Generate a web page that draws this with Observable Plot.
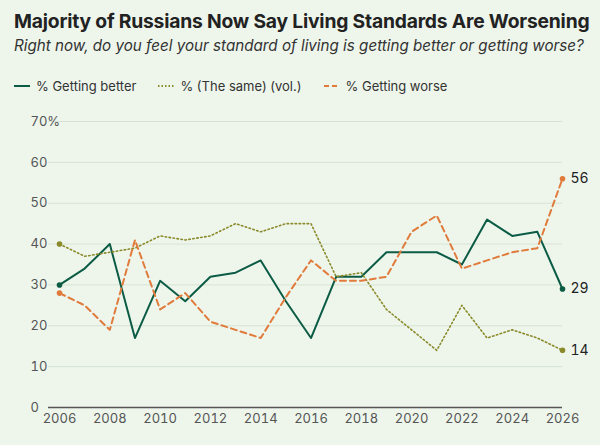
<!DOCTYPE html>
<html><head><meta charset="utf-8">
<script src="https://cdn.jsdelivr.net/npm/d3@7"></script>
<script src="https://cdn.jsdelivr.net/npm/@observablehq/plot@0.6"></script>
<style>
body{margin:0;background:#eef6ec;font-family:Inter,"Noto Sans",sans-serif;}
#t{font-weight:700;font-size:19.3px;color:#222;position:absolute;left:14px;top:9px;letter-spacing:-0.2px}
#s{font-style:italic;font-size:15.2px;color:#333;position:absolute;left:14px;top:36px}
#l{position:absolute;left:14px;top:78px;font-size:13px;color:#333;display:flex;gap:22px}
#l span{display:flex;align-items:center;gap:6px}
#c{position:absolute;left:0;top:108px}
</style></head><body>
<div id="t">Majority of Russians Now Say Living Standards Are Worsening</div>
<div id="s">Right now, do you feel your standard of living is getting better or getting worse?</div>
<div id="l">
<span><svg width="16" height="4"><line x1="0" y1="2" x2="16" y2="2" stroke="#0c5c45" stroke-width="2"/></svg>% Getting better</span>
<span><svg width="16" height="4"><line x1="0" y1="2" x2="16" y2="2" stroke="#8a8a2a" stroke-width="2" stroke-dasharray="1.5,2"/></svg>% (The same) (vol.)</span>
<span><svg width="16" height="4"><line x1="0" y1="2" x2="16" y2="2" stroke="#e07b3c" stroke-width="2" stroke-dasharray="5,3"/></svg>% Getting worse</span>
</div>
<div id="c"></div>
<script>
const years=d3.range(2006,2027);
const better=[30,34,40,17,31,26,32,33,36,26,17,32,32,38,38,38,35,46,42,43,29];
const same=[40,37,38,39,42,41,42,45,43,45,45,32,33,24,19,14,25,17,19,17,14];
const worse=[28,25,19,41,24,28,21,19,17,27,36,31,31,32,43,47,34,36,38,39,56];
const series=[
 {name:"better",vals:better,color:"#0c5c45",dash:null,w:2},
 {name:"same",vals:same,color:"#8a8a2a",dash:"1.5,2.5",w:1.6},
 {name:"worse",vals:worse,color:"#e07b3c",dash:"6,4",w:2}];
const marks=[
 Plot.gridY({ticks:d3.range(10,80,10),stroke:"#d6e2d3",strokeOpacity:1}),
 Plot.axisY({ticks:d3.range(0,80,10),tickSize:0,textAnchor:"start",dx:-9,fontSize:13,fill:"#555",
   tickFormat:d=>d===70?"70%":d,label:null}),
 Plot.axisX({ticks:d3.range(2006,2027,2),tickSize:0,tickPadding:6,fontSize:13,fill:"#555",tickFormat:d=>String(d),label:null}),
 Plot.ruleY([0],{stroke:"#555",strokeWidth:1.5})];
for(const s of series){
 const data=years.map((y,i)=>({year:y,v:s.vals[i]}));
 marks.push(Plot.line(data,{x:"year",y:"v",stroke:s.color,strokeWidth:s.w,strokeDasharray:s.dash}));
 marks.push(Plot.dot([data[0],data[20]],{x:"year",y:"v",fill:s.color,r:2.8}));
 marks.push(Plot.text([data[20]],{x:"year",y:"v",text:d=>d.v,dx:8,textAnchor:"start",fontSize:14,fill:"#222"}));
}
document.getElementById("c").append(Plot.plot({
 width:600,height:330,marginLeft:48,marginRight:38,marginTop:13,marginBottom:31,
 style:{background:"transparent",fontFamily:"Inter, Noto Sans, sans-serif"},
 x:{domain:[2006,2026],insetLeft:11},
 y:{domain:[0,70]},
 marks}));
</script></body></html>
